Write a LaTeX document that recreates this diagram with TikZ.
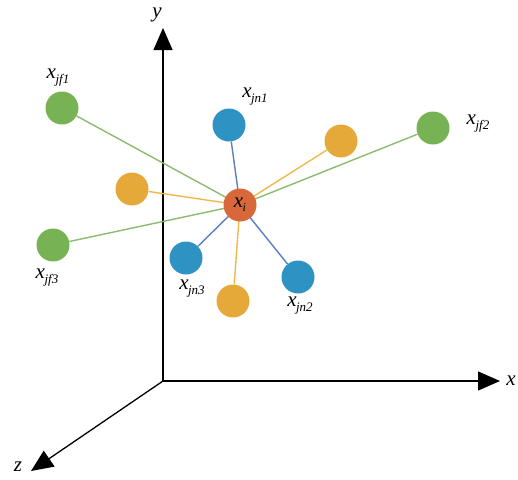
\documentclass[tikz,border=0pt]{standalone}
\usepackage{fontspec}
\setmainfont{Liberation Serif}
\usetikzlibrary{arrows.meta}
\definecolor{cgreen}{HTML}{77B255}
\definecolor{cblue}{HTML}{2E92C2}
\definecolor{cyel}{HTML}{E5A93A}
\definecolor{corg}{HTML}{D8683A}
\definecolor{lgreen}{HTML}{8DBA6E}
\definecolor{lblue}{HTML}{5B7EC2}
\definecolor{lyel}{HTML}{F0B84A}
\newcommand{\subx}[1]{x\kern-0.5pt\raisebox{-5pt}{\fontsize{13}{13}\selectfont #1}}
\tikzset{
  ball/.style={circle,minimum size=33pt,inner sep=0pt},
  gball/.style={ball,fill=cgreen},
  bball/.style={ball,fill=cblue},
  yball/.style={ball,fill=cyel},
  axis/.style={line width=1.3pt,-{Triangle[length=22pt,width=19pt]}},
  lab/.style={font=\fontsize{21}{23}\selectfont\itshape,inner sep=0pt},
  con/.style={line width=1.4pt}
}
\begin{document}
\begin{tikzpicture}[x=1pt,y=-1pt]
\useasboundingbox (0,0) rectangle (518,479);
% axes
\coordinate (O) at (163,381);
\coordinate (Y) at (163,28);
\coordinate (X) at (500,381);
\coordinate (Z) at (31,471);
\draw[axis] (O) -- (Y);
\draw[axis] (O) -- (X);
\draw[axis] (O) -- (Z);
\node[lab] (ylab) at (157,15) {y};
\node[lab] (xlab) at (511,381) {x};
\node[lab] (zlab) at (18,467) {z};
% nodes
\node[gball] (f1) at (62,108) {};
\node[gball] (f2) at (433,128) {};
\node[gball] (f3) at (53,245) {};
\node[bball] (n1) at (229,125) {};
\node[bball] (n2) at (298,277) {};
\node[bball] (n3) at (186,258) {};
\node[yball] (y1) at (341,141) {};
\node[yball] (y2) at (132,189) {};
\node[yball] (y3) at (233,301) {};
\coordinate (c) at (240,205);
% connectors
\draw[con,lgreen] (c) -- (f1);
\draw[con,lgreen] (c) -- (f2);
\draw[con,lgreen] (c) -- (f3);
\draw[con,lblue] (c) -- (n1);
\draw[con,lblue] (c) -- (n2);
\draw[con,lblue] (c) -- (n3);
\draw[con,lyel] (c) -- (y1);
\draw[con,lyel] (c) -- (y2);
\draw[con,lyel] (c) -- (y3);
\node[ball,fill=corg] (xi) at (c) {};
\node[lab] (xilab) at (c) {x\kern-0.5pt\raisebox{-4pt}{\fontsize{12}{12}\selectfont i}};
% labels
\node[lab] (lf1) at (58,78) {\subx{jf1}};
\node[lab] (lf2) at (478,124) {\subx{jf2}};
\node[lab] (lf3) at (47,278) {\subx{jf3}};
\node[lab] (ln1) at (255,97) {\subx{jn1}};
\node[lab] (ln2) at (300,306) {\subx{jn2}};
\node[lab] (ln3) at (192,289) {\subx{jn3}};
\end{tikzpicture}
\end{document}
